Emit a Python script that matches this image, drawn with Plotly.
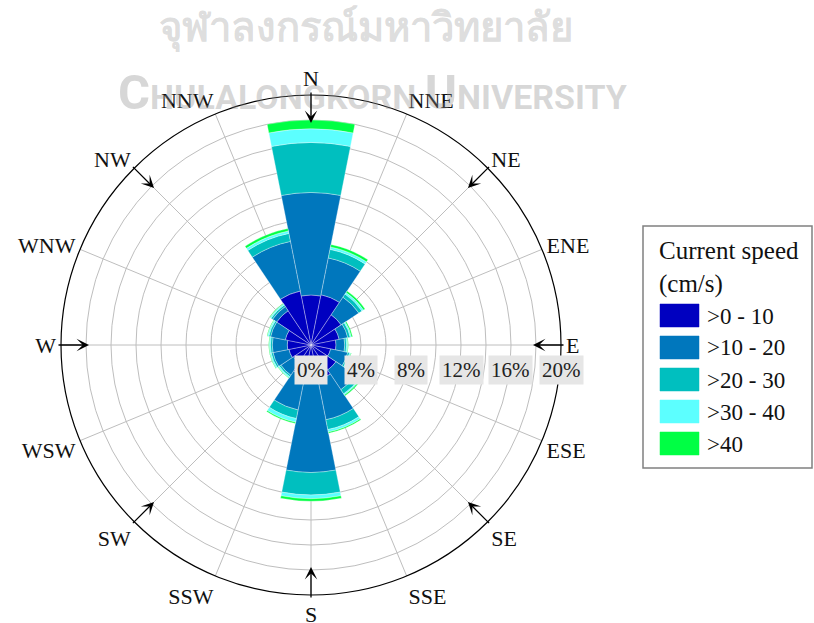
import math
import plotly.graph_objects as go

# Direction sectors (16-point compass)
directions = ["N", "NNE", "NE", "ENE", "E", "ESE", "SE", "SSE",
              "S", "SSW", "SW", "WSW", "W", "WNW", "NW", "NNW"]

# Frequency (%) of each speed class per direction (stacked outward)
speed_0_10 = [4.0, 4.1, 2.9, 2.3, 2.0, 1.6, 2.4, 2.8, 3.0, 2.5, 1.7, 1.8, 1.9, 2.1, 3.3, 4.4]
speed_10_20 = [8.2, 3.0, 1.7, 0.7, 0.7, 1.4, 1.9, 3.3, 7.2, 2.8, 1.2, 1.3, 1.2, 1.2, 0.4, 4.05]
speed_20_30 = [4.0, 0.7, 0.3, 0.2, 0.15, 0.15, 0.4, 0.8, 1.8, 0.7, 0.15, 0.15, 0.15, 0.15, 0.15, 0.65]
speed_30_40 = [1.1, 0.2, 0.15, 0.1, 0.1, 0.1, 0.1, 0.2, 0.3, 0.3, 0.1, 0.1, 0.1, 0.1, 0.1, 0.2]
speed_40_up = [0.7, 0.2, 0.15, 0.1, 0.05, 0.05, 0.1, 0.1, 0.2, 0.1, 0.05, 0.05, 0.05, 0.05, 0.05, 0.2]

class_names = [">0 - 10", ">10 - 20", ">20 - 30", ">30 - 40", ">40"]
class_colors = ["#0000C0", "#0077BD", "#00BFBF", "#5CFFFF", "#00FF44"]

radial_ticks = [0, 4, 8, 12, 16, 20]
radial_grid = [0, 2, 4, 6, 8, 10, 12, 14, 16, 18, 20]
arrow_dirs = ["N", "NE", "E", "SE", "S", "SW", "W", "NW"]

W, H = 814, 623
CX, CY, R = 311, 345, 250      # rose centre and outer radius in pixels
RMAX = 20
SERIF = "Liberation Serif"

sector = 360 / len(directions)
thetas = [i * sector for i in range(len(directions))]


def paper(xp, yp):
    return xp / W, 1 - yp / H


fig = go.Figure()
series = [speed_0_10, speed_10_20, speed_20_30, speed_30_40, speed_40_up]
for name, color, vals in zip(class_names, class_colors, series):
    fig.add_trace(go.Barpolar(
        r=vals, theta=thetas, width=[sector] * len(thetas), name=name,
        marker=dict(color=color, line=dict(color="rgba(255,255,255,0.55)", width=0.6)),
        showlegend=False,
    ))

annotations = []
shapes = []


def note(text, xp, yp, **kw):
    x, y = paper(xp, yp)
    d = dict(text=text, x=x, y=y, xref="paper", yref="paper", showarrow=False,
             xanchor="center", yanchor="middle")
    d.update(kw)
    annotations.append(d)


# Watermark
note("<b>จุฬาลงกรณ์มหาวิทยาลัย</b>", 366, 29,
     font=dict(size=40, color="rgba(140,140,140,0.3)"))
note("<b><span style='font-size:49px'>C</span>HULALONGKORN <span style='font-size:49px'>U</span>NIVERSITY</b>",
     372, 92, font=dict(size=34, color="rgba(140,140,140,0.35)", family="Roboto"))

# Radial percentage labels along the east radius
for v in radial_ticks:
    note(f"{v}%", CX + v / RMAX * R, 370, bgcolor="#E6E6E6", borderpad=2,
         font=dict(size=21, family=SERIF, color="#222"))

# Inward-pointing arrows at the eight principal directions
for d in arrow_dirs:
    a = math.radians(thetas[directions.index(d)])
    tip_r, tail_r = 222, 254
    tx, ty = CX + tip_r * math.sin(a), CY - tip_r * math.cos(a)
    sx, sy = CX + tail_r * math.sin(a), CY - tail_r * math.cos(a)
    x, y = paper(tx, ty)
    annotations.append(dict(
        x=x, y=y, xref="paper", yref="paper", ax=sx - tx, ay=sy - ty,
        showarrow=True, arrowhead=3, arrowsize=1.6, arrowwidth=1.3, arrowcolor="black", text=""))

# Legend drawn as a boxed key
lx0, ly0, lx1, ly1 = 643, 226, 812, 468
x0p, y0p = paper(lx0, ly1)
x1p, y1p = paper(lx1, ly0)
shapes.append(dict(type="rect", xref="paper", yref="paper", x0=x0p, y0=y0p, x1=x1p, y1=y1p,
                   line=dict(color="#808080", width=1.5), fillcolor="white", layer="above"))
note("Current speed<br>(cm/s)", 657, 267, xanchor="left", align="left",
     font=dict(size=25, family=SERIF, color="#111"))
for i, (name, color) in enumerate(zip(class_names, class_colors)):
    top = 304 + 32 * i
    a0, b0 = paper(660, top + 23)
    a1, b1 = paper(699, top)
    shapes.append(dict(type="rect", xref="paper", yref="paper", x0=a0, y0=b0, x1=a1, y1=b1,
                       line=dict(color=color, width=0.5), fillcolor=color, layer="above"))
    note(name, 705, top + 12, xanchor="left", font=dict(size=23, family=SERIF, color="#111"))

dx0, dy1 = paper(CX - R, CY - R)
dx1, dy0 = paper(CX + R, CY + R)

fig.update_layout(
    width=W, height=H, margin=dict(l=0, r=0, t=0, b=0),
    paper_bgcolor="white", plot_bgcolor="white", showlegend=False,
    font=dict(family=SERIF),
    polar=dict(
        domain=dict(x=[dx0, dx1], y=[dy0, dy1]),
        bgcolor="white", barmode="stack", bargap=0,
        radialaxis=dict(range=[0, RMAX], tickvals=radial_grid, showticklabels=False, ticks="",
                        showline=False, gridcolor="#BEBEBE", gridwidth=1, layer="above traces"),
        angularaxis=dict(direction="clockwise", rotation=90, tickmode="array",
                         tickvals=thetas, ticktext=directions, ticks="",
                         showline=True, linecolor="black", linewidth=1.2,
                         gridcolor="#BEBEBE", gridwidth=1, layer="above traces",
                         tickfont=dict(size=22, family=SERIF, color="#111")),
    ),
    annotations=annotations, shapes=shapes,
)

fig.write_html("out.html")
